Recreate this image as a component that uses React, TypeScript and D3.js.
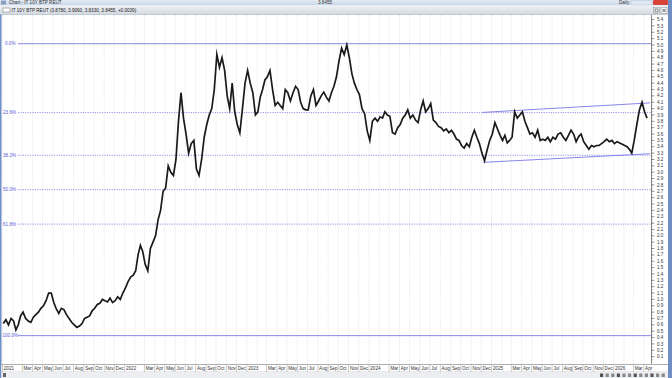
import React from "react";
import * as d3 from "d3";

const W = 672;
const H = 378;

// Four readings per month (roughly weekly)
const y2021 = [
  0.62, 0.68, 0.6, 0.7, 0.66, 0.52, 0.6, 0.74, 0.8, 0.7, 0.66, 0.64,
  0.72, 0.76, 0.8, 0.86, 0.9, 0.98, 1.1, 1.1, 0.95, 0.85, 0.78, 0.86,
  0.84, 0.76, 0.7, 0.64, 0.6, 0.56, 0.58, 0.62, 0.7, 0.72, 0.74, 0.82,
  0.86, 0.92, 0.94, 1.0, 0.98, 0.96, 1.02, 0.95, 0.98, 1.04, 1.0, 1.1,
];
const y2022 = [
  1.18, 1.28, 1.35, 1.38, 1.45, 1.7, 1.85, 1.75, 1.55, 1.45, 1.8, 1.9,
  2.0, 2.25, 2.4, 2.7, 2.75, 3.1, 3.0, 2.95, 3.2, 3.8, 4.25, 3.85,
  3.6, 3.3, 3.45, 3.5, 3.05, 2.95, 3.2, 3.55, 3.75, 3.9, 4.0, 4.3,
  4.85, 4.65, 4.8, 4.6, 4.2, 4.0, 4.4, 3.95, 3.75, 3.62, 4.0, 4.4,
];
const y2023 = [
  4.6, 4.4, 4.25, 3.9, 3.95, 4.18, 4.3, 4.45, 4.5, 4.6, 4.3, 4.05,
  4.1, 4.05, 4.0, 4.3, 4.25, 4.12, 4.25, 4.35, 4.3, 4.1, 4.0, 3.98,
  3.98, 4.2, 4.3, 4.05, 4.12, 4.2, 4.26, 4.18, 4.12, 4.25, 4.35, 4.5,
  4.75, 4.95, 4.85, 5.0, 4.8, 4.55, 4.4, 4.3, 4.22, 4.0, 3.92, 3.65,
];
const y2024 = [
  3.5, 3.8, 3.85, 3.8, 3.87, 3.85, 3.95, 3.9, 3.88, 3.62, 3.6, 3.7,
  3.75, 3.85, 3.9, 3.98, 3.85, 3.9, 3.82, 3.78, 3.98, 4.12, 3.95, 4.0,
  4.08, 3.82, 3.78, 3.72, 3.7, 3.65, 3.68, 3.62, 3.66, 3.6, 3.52, 3.5,
  3.42, 3.38, 3.45, 3.4, 3.55, 3.66, 3.55, 3.45, 3.3, 3.18, 3.35, 3.5,
];
const y2025 = [
  3.6, 3.78, 3.68, 3.58, 3.5, 3.58, 3.46, 3.5, 3.55, 3.95, 3.85, 3.9,
  3.95, 3.8, 3.7, 3.6, 3.62, 3.55, 3.66, 3.5, 3.52, 3.5, 3.55, 3.48,
  3.55, 3.52, 3.6, 3.62, 3.55, 3.5, 3.58, 3.66, 3.6, 3.48, 3.56, 3.6,
  3.48, 3.42, 3.36, 3.42, 3.4, 3.42, 3.42, 3.45, 3.48, 3.52, 3.48, 3.5,
];
const y2026 = [
  3.45, 3.48, 3.46, 3.44, 3.42, 3.4, 3.36, 3.3, 3.5, 3.75, 3.98, 4.1,
  3.95, 3.85,
];

const years = [2021, 2022, 2023, 2024, 2025, 2026];
const yearSeries = [y2021, y2022, y2023, y2024, y2025, y2026];

const monthNames = ["Jan", "Feb", "Mar", "Apr", "May", "Jun", "Jul", "Aug", "Sep", "Oct", "Nov", "Dec"];

const fibLevels = [0, 0.236, 0.382, 0.5, 0.618, 1];
const fibLabels = ["0.0%", "23.6%", "38.2%", "50.0%", "61.8%", "100.0%"];
const fibHigh = 5.02;
const fibLow = 0.43;

const channelUpper = [
  { date: "2024-12-06", v: 3.94 },
  { date: "2026-04-21", v: 4.09 },
];
const channelLower = [
  { date: "2024-12-09", v: 3.155 },
  { date: "2026-04-21", v: 3.29 },
];

const yTicks = d3.range(1, 55).map((i) => i / 10);

const titleText = "Chart - IT 10Y BTP REUT";
const lastText = "3.8455";
const headerText = "IT 10Y BTP REUT (3.8780, 3.9060, 3.8330, 3.8455, +0.0039)";

export default function App() {
  const plotTop = 15;
  const plotBottom = 364;
  const plotRight = 651.5;

  const x = d3
    .scaleTime()
    .domain([new Date(2021, 0, 1), new Date(2026, 3, 21)])
    .range([2, 650]);
  const y = d3.scaleLinear().domain([0, 5]).range([363, 45]);

  const pts: { d: Date; v: number }[] = [];
  yearSeries.forEach((arr, yi) => {
    arr.forEach((v, i) => {
      const m = Math.floor(i / 4);
      const q = i % 4;
      const s = new Date(years[yi], m, 1);
      const e = new Date(years[yi], m + 1, 1);
      const t = s.getTime() + ((q + 0.5) / 4) * (e.getTime() - s.getTime());
      pts.push({ d: new Date(t), v });
    });
  });

  const line = d3
    .line<{ d: Date; v: number }>()
    .x((p) => x(p.d))
    .y((p) => y(p.v));

  const months = d3.timeMonth.range(new Date(2021, 0, 1), new Date(2026, 3, 21));
  const font = "'Liberation Sans', Arial, sans-serif";
  const fibColor = "#7a78e6";

  const fibY = (lv: number) => y(fibHigh - lv * (fibHigh - fibLow));
  const chLine = d3
    .line<{ date: string; v: number }>()
    .x((p) => x(new Date(p.date)))
    .y((p) => y(p.v));

  const minorTicks = d3.range(1, 109).map((i) => i / 20);

  return (
    <svg width={W} height={H} style={{ position: "absolute", left: 0, top: 0, display: "block" }} fontFamily={font}>
      <defs>
        <linearGradient id="tb" x1="0" y1="0" x2="0" y2="1">
          <stop offset="0" stopColor="#e4ecf6" />
          <stop offset="1" stopColor="#c6d4e6" />
        </linearGradient>
        <linearGradient id="hb" x1="0" y1="0" x2="0" y2="1">
          <stop offset="0" stopColor="#eef1f5" />
          <stop offset="1" stopColor="#d3d9e2" />
        </linearGradient>
      </defs>
      <rect x={0} y={0} width={W} height={H} fill="#ffffff" />
      {/* title bar */}
      <rect x={0} y={0} width={W} height={5.5} fill="url(#tb)" />
      <rect x={1} y={0.5} width={5} height={4} fill="#8aa0c0" />
      <text x={9} y={4.3} fontSize={4.6} fill="#333">{titleText}</text>
      <text x={318} y={4.3} fontSize={4.6} fill="#333">{lastText}</text>
      <text x={619} y={4.3} fontSize={4.6} fill="#333">Daily</text>
      <rect x={631} y={0.5} width={21} height={4.5} fill="#dfe7f2" stroke="#aab8cc" strokeWidth={0.4} />
      <rect x={653} y={0} width={15} height={5} fill="#d8403a" rx={1} />
      <rect x={668} y={0} width={4} height={H} fill="#6f8fc4" />
      {/* pane header */}
      <rect x={0} y={5.5} width={668} height={9} fill="url(#hb)" />
      <line x1={0} y1={14.5} x2={668} y2={14.5} stroke="#a8b2c0" strokeWidth={0.6} />
      <rect x={3} y={8} width={7} height={4} fill="#ffffff" stroke="#555" strokeWidth={0.4} />
      <text x={11.5} y={11.8} fontSize={4.6} fill="#222">{headerText}</text>
      <rect x={653.5} y={7.5} width={6} height={6} fill="#f6f6f6" stroke="#777" strokeWidth={0.4} />
      <rect x={655} y={9} width={3} height={3} fill="none" stroke="#222" strokeWidth={0.5} />
      <rect x={661} y={7.5} width={6} height={6} fill="#f6f6f6" stroke="#777" strokeWidth={0.4} />
      <path d="M662.5,9 L665.5,12 M665.5,9 L662.5,12" stroke="#222" strokeWidth={0.7} />
      {/* left frame */}
      <rect x={0} y={14.5} width={1.5} height={H - 14.5} fill="#6f8fc4" />

      {/* month grid */}
      {months.map((m, i) => (
        <line
          key={"g" + i}
          x1={x(m) + 0.5}
          x2={x(m) + 0.5}
          y1={plotTop}
          y2={plotBottom}
          stroke="#cfcfcf"
          strokeWidth={0.6}
          strokeDasharray="1,1.5"
        />
      ))}

      {/* fib lines */}
      {fibLevels.map((lv, i) => {
        const yy = fibY(lv);
        const solid = lv === 0 || lv === 1;
        return (
          <g key={"f" + i}>
            <line
              x1={18}
              x2={plotRight}
              y1={yy}
              y2={yy}
              stroke={fibColor}
              strokeWidth={solid ? 0.9 : 0.8}
              strokeDasharray={solid ? undefined : "1.2,1.2"}
            />
            <text x={lv === 1 ? 2.5 : lv === 0 ? 5 : 3} y={yy + 1.6} fontSize={4.6} fill="#5a5ad8">
              {fibLabels[i]}
            </text>
          </g>
        );
      })}

      {/* channel */}
      <path d={chLine(channelUpper) || ""} fill="none" stroke={fibColor} strokeWidth={0.9} />
      <path d={chLine(channelLower) || ""} fill="none" stroke={fibColor} strokeWidth={0.9} />

      {/* series */}
      <path d={line(pts) || ""} fill="none" stroke="#1a1a1a" strokeWidth={1.7} strokeLinejoin="miter" strokeMiterlimit={8} />

      {/* right axis */}
      <rect x={plotRight} y={plotTop} width={668 - plotRight} height={plotBottom - plotTop} fill="#ffffff" />
      <line x1={plotRight} x2={plotRight} y1={plotTop} y2={plotBottom} stroke="#555" strokeWidth={0.7} />
      {minorTicks.map((t, i) => (
        <line key={"mt" + i} x1={plotRight} x2={plotRight + 1.5} y1={y(t)} y2={y(t)} stroke="#666" strokeWidth={0.4} />
      ))}
      {yTicks.map((t, i) => (
        <g key={"yt" + i}>
          <line x1={plotRight} x2={plotRight + 3} y1={y(t)} y2={y(t)} stroke="#444" strokeWidth={0.5} />
          <text x={657} y={y(t) + 1.6} fontSize={4.6} fill="#333">
            {t.toFixed(1)}
          </text>
        </g>
      ))}

      {/* x axis */}
      <line x1={1.5} x2={668} y1={plotBottom + 0.5} y2={plotBottom + 0.5} stroke="#777" strokeWidth={0.6} />
      <rect x={1.5} y={plotBottom + 1} width={666.5} height={7} fill="#ffffff" />
      {months.map((m, i) => {
        if (m.getMonth() === 1) return null;
        const lbl = m.getMonth() === 0 ? String(m.getFullYear()) : monthNames[m.getMonth()];
        return (
          <g key={"xl" + i}>
            <line x1={x(m) + 0.5} x2={x(m) + 0.5} y1={plotBottom + 1} y2={plotBottom + 8} stroke="#999" strokeWidth={0.5} />
            <text x={x(m) + 1.8} y={plotBottom + 6.2} fontSize={4.6} fill="#333">
              {lbl}
            </text>
          </g>
        );
      })}
      <line x1={1.5} x2={668} y1={plotBottom + 8} y2={plotBottom + 8} stroke="#aaa" strokeWidth={0.5} />
      <rect x={1.5} y={plotBottom + 8.3} width={666.5} height={H - plotBottom - 8.3} fill="#eceef1" />
      {d3.range(0, 12).map((i) => (
        <rect key={"sb" + i} x={600 + i * 5.6} y={373.5} width={3.2} height={3.5} fill={i % 3 === 0 ? "#555" : "#888"} />
      ))}
      <rect x={3} y={373} width={3} height={4} fill="#666" />
    </svg>
  );
}
